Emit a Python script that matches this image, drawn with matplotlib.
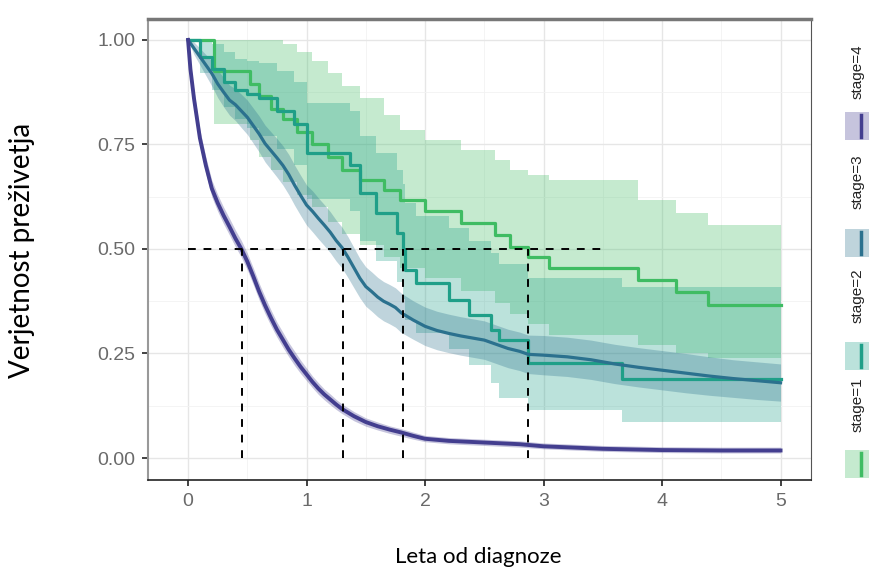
import matplotlib
matplotlib.use("Agg")
import matplotlib.pyplot as plt
from matplotlib.patches import Rectangle
from matplotlib.lines import Line2D
from matplotlib.ticker import MultipleLocator

# ---- data ----
# stage=1
t1 = [0, 0.22, 0.52, 0.60, 0.70, 0.80, 0.92, 1.05, 1.18, 1.30, 1.45, 1.65, 1.79, 2.00,
      2.30, 2.59, 2.72, 2.87, 3.05, 3.80, 4.12, 4.39, 5.00]
s1 = [1.0, 0.925, 0.895, 0.865, 0.835, 0.81, 0.78, 0.75, 0.72, 0.69, 0.665, 0.64, 0.617, 0.59,
      0.562, 0.533, 0.505, 0.48, 0.455, 0.426, 0.397, 0.366, 0.366]
lo1 = [1.0, 0.80, 0.76, 0.72, 0.69, 0.66, 0.63, 0.60, 0.565, 0.535, 0.51, 0.48, 0.455, 0.43,
       0.40, 0.37, 0.345, 0.32, 0.295, 0.27, 0.25, 0.24, 0.24]
hi1 = [1.0, 1.0, 1.0, 1.0, 1.0, 0.99, 0.97, 0.95, 0.92, 0.89, 0.86, 0.82, 0.785, 0.76,
       0.737, 0.713, 0.689, 0.677, 0.665, 0.617, 0.586, 0.557, 0.557]

# stage=2
t2 = [0, 0.10, 0.20, 0.30, 0.40, 0.50, 0.60, 0.75, 0.89, 1.00, 1.37, 1.45, 1.59, 1.76,
      1.81, 1.83, 1.92, 2.20, 2.37, 2.56, 2.62, 2.87, 3.66, 5.00]
s2 = [1.0, 0.96, 0.93, 0.90, 0.88, 0.87, 0.86, 0.83, 0.80, 0.73, 0.70, 0.633, 0.586, 0.538,
      0.50, 0.45, 0.418, 0.378, 0.342, 0.306, 0.282, 0.227, 0.19, 0.19]
lo2 = [1.0, 0.92, 0.88, 0.84, 0.81, 0.79, 0.77, 0.74, 0.70, 0.62, 0.59, 0.52, 0.47, 0.42,
       0.38, 0.33, 0.30, 0.26, 0.222, 0.18, 0.144, 0.115, 0.087, 0.087]
hi2 = [1.0, 1.0, 0.99, 0.97, 0.955, 0.95, 0.945, 0.925, 0.90, 0.85, 0.83, 0.77, 0.73, 0.69,
       0.655, 0.61, 0.58, 0.55, 0.52, 0.49, 0.465, 0.43, 0.41, 0.41]

# stage=3
t3 = [0, 0.05, 0.10, 0.15, 0.20, 0.25, 0.30, 0.35, 0.40, 0.45, 0.50, 0.55, 0.60, 0.65, 0.70,
      0.75, 0.80, 0.85, 0.90, 0.95, 1.00, 1.05, 1.10, 1.15, 1.20, 1.25, 1.30, 1.35, 1.40, 1.45,
      1.50, 1.55, 1.60, 1.65, 1.70, 1.75, 1.80, 1.90, 2.00, 2.10, 2.20, 2.30, 2.40, 2.50, 2.60,
      2.70, 2.80, 2.87, 3.00, 3.20, 3.40, 3.60, 3.80, 4.00, 4.20, 4.40, 4.60, 4.80, 5.00]
s3 = [1.0, 0.98, 0.96, 0.94, 0.92, 0.895, 0.875, 0.856, 0.845, 0.83, 0.815, 0.795, 0.775, 0.752,
      0.735, 0.718, 0.70, 0.678, 0.652, 0.628, 0.605, 0.59, 0.573, 0.557, 0.54, 0.52, 0.503, 0.48,
      0.455, 0.43, 0.41, 0.398, 0.385, 0.375, 0.368, 0.36, 0.347, 0.33, 0.315, 0.305, 0.298,
      0.292, 0.287, 0.282, 0.272, 0.262, 0.255, 0.248, 0.246, 0.242, 0.235, 0.225, 0.217, 0.21,
      0.203, 0.196, 0.19, 0.185, 0.18]
lo3 = [1.0, 0.965, 0.94, 0.915, 0.89, 0.862, 0.84, 0.82, 0.807, 0.79, 0.774, 0.753, 0.732, 0.708,
       0.69, 0.672, 0.653, 0.63, 0.604, 0.58, 0.557, 0.541, 0.524, 0.508, 0.491, 0.471, 0.454,
       0.431, 0.407, 0.383, 0.363, 0.351, 0.338, 0.328, 0.321, 0.313, 0.300, 0.284, 0.269, 0.259,
       0.252, 0.246, 0.241, 0.236, 0.226, 0.216, 0.209, 0.202, 0.199, 0.195, 0.188, 0.178, 0.17,
       0.163, 0.156, 0.150, 0.145, 0.140, 0.136]
hi3 = [1.0, 0.995, 0.98, 0.965, 0.95, 0.928, 0.91, 0.892, 0.883, 0.87, 0.856, 0.837, 0.818, 0.796,
       0.78, 0.764, 0.747, 0.726, 0.700, 0.676, 0.653, 0.639, 0.622, 0.606, 0.589, 0.569, 0.552,
       0.529, 0.503, 0.477, 0.457, 0.445, 0.432, 0.422, 0.415, 0.407, 0.394, 0.376, 0.361, 0.351,
       0.344, 0.338, 0.333, 0.328, 0.318, 0.308, 0.301, 0.294, 0.293, 0.289, 0.282, 0.272, 0.264,
       0.257, 0.250, 0.242, 0.235, 0.23, 0.225]

# stage=4
t4 = [0, 0.02, 0.05, 0.10, 0.15, 0.20, 0.25, 0.30, 0.35, 0.40, 0.45, 0.50, 0.55, 0.60, 0.65,
      0.70, 0.75, 0.80, 0.85, 0.90, 0.95, 1.00, 1.05, 1.10, 1.15, 1.20, 1.25, 1.30, 1.40, 1.50,
      1.60, 1.70, 1.80, 1.90, 2.00, 2.20, 2.50, 2.80, 3.00, 3.50, 4.00, 4.50, 5.00]
s4 = [1.0, 0.93, 0.86, 0.765, 0.70, 0.645, 0.61, 0.58, 0.553, 0.525, 0.50, 0.47, 0.435, 0.398,
      0.365, 0.335, 0.307, 0.283, 0.259, 0.238, 0.218, 0.20, 0.182, 0.166, 0.152, 0.14, 0.128,
      0.117, 0.10, 0.086, 0.076, 0.068, 0.061, 0.053, 0.046, 0.041, 0.037, 0.033, 0.028, 0.022,
      0.019, 0.018, 0.018]
lo4 = [1.0, 0.915, 0.842, 0.745, 0.68, 0.625, 0.59, 0.56, 0.533, 0.505, 0.48, 0.45, 0.415, 0.378,
       0.345, 0.316, 0.289, 0.265, 0.242, 0.221, 0.202, 0.185, 0.168, 0.152, 0.139, 0.127, 0.116,
       0.106, 0.089, 0.076, 0.067, 0.059, 0.052, 0.045, 0.039, 0.034, 0.030, 0.026, 0.022, 0.016,
       0.013, 0.012, 0.012]
hi4 = [1.0, 0.945, 0.878, 0.785, 0.72, 0.665, 0.63, 0.60, 0.573, 0.545, 0.52, 0.49, 0.455, 0.418,
       0.385, 0.354, 0.325, 0.301, 0.276, 0.255, 0.234, 0.215, 0.196, 0.18, 0.165, 0.153, 0.14,
       0.129, 0.111, 0.096, 0.086, 0.077, 0.070, 0.062, 0.054, 0.049, 0.045, 0.041, 0.036, 0.030,
       0.027, 0.026, 0.026]

medians = [0.456, 1.31, 1.81, 2.87]
hline_end = 3.54

labels = ["stage=1", "stage=2", "stage=3", "stage=4"]
colors = ["#3fbc63", "#1f9f88", "#2b718e", "#433e8f"]

curves = [(t1, s1, lo1, hi1), (t2, s2, lo2, hi2), (t3, s3, lo3, hi3), (t4, s4, lo4, hi4)]
# stages 1-2 have few events (clear steps); 3-4 have many tiny steps, drawn as a smooth path
stepped = [True, True, False, False]

fig = plt.figure(figsize=(8.7, 5.82), dpi=100)
ax = fig.add_axes([148 / 870, (582 - 480) / 582, (811 - 148) / 870, (480 - 19) / 582])

for (t, s, lo, hi), c, st in zip(curves, colors, stepped):
    ax.fill_between(t, lo, hi, step="post" if st else None, color=c, alpha=0.3, lw=0)
for i, ((t, s, lo, hi), c, st) in enumerate(zip(curves, colors, stepped)):
    lw = 2.8 if i == 3 else 2.3
    if st:
        ax.step(t, s, where="post", color=c, lw=lw, zorder=3)
    else:
        ax.plot(t, s, color=c, lw=lw, zorder=3, solid_joinstyle="round")

# median lines
ax.plot([0, hline_end], [0.5, 0.5], ls=(0, (4, 4)), color="black", lw=1.4, zorder=4)
for m in medians:
    ax.plot([m, m], [0, 0.5], ls=(0, (4, 4)), color="black", lw=1.4, zorder=4)

ax.set_xlim(-0.338, 5.257)
ax.set_ylim(-0.0526, 1.05)
ax.set_xticks([0, 1, 2, 3, 4, 5])
ax.set_yticks([0, 0.25, 0.5, 0.75, 1.0])
ax.set_yticklabels(["0.00", "0.25", "0.50", "0.75", "1.00"])
ax.xaxis.set_minor_locator(MultipleLocator(0.5))
ax.yaxis.set_minor_locator(MultipleLocator(0.125))
ax.grid(True, which="major", color="#e6e6e6", lw=1.0, zorder=0)
ax.grid(True, which="minor", color="#f2f2f2", lw=0.6, zorder=0)
ax.set_axisbelow(True)
ax.tick_params(which="minor", length=0)
ax.tick_params(which="major", length=4, width=1.3, color="#333333", pad=5,
               labelsize=14, labelcolor="#6a6a6a")
for lab in ax.get_xticklabels() + ax.get_yticklabels():
    lab.set_family("Liberation Sans")

ax.spines["left"].set_color("#999999")
ax.spines["left"].set_linewidth(1.5)
ax.spines["right"].set_color("#555555")
ax.spines["top"].set_color("#777777")
ax.spines["top"].set_linewidth(2.5)
ax.spines["bottom"].set_color("#222222")
ax.spines["bottom"].set_linewidth(1.2)

fig.text(22 / 870, 1 - 250 / 582, "Verjetnost preživetja", rotation=90, ha="center",
         va="center", fontsize=20, family="Lato")
fig.text(478 / 870, 1 - 557 / 582, "Leta od diagnoze", ha="center", va="center",
         fontsize=16, family="Lato")

# legend on the right, rotated
text_y = [405, 296, 182, 72]
key_y = [464, 356, 243, 126]
for lab, c, ty, ky in zip(labels, colors, text_y, key_y):
    fig.text(858 / 870, 1 - ty / 582, lab, rotation=90, ha="center", va="center",
             fontsize=11, family="Liberation Sans", color="#222222")
    fig.add_artist(Rectangle((845 / 870, 1 - (ky + 14) / 582), 25 / 870, 28 / 582,
                             transform=fig.transFigure, color=c, alpha=0.3, lw=0))
    fig.add_artist(Line2D([861 / 870, 861 / 870], [1 - (ky + 11) / 582, 1 - (ky - 11) / 582],
                          transform=fig.transFigure, color=c, lw=2.5))

fig.savefig("out.png", dpi=100)
